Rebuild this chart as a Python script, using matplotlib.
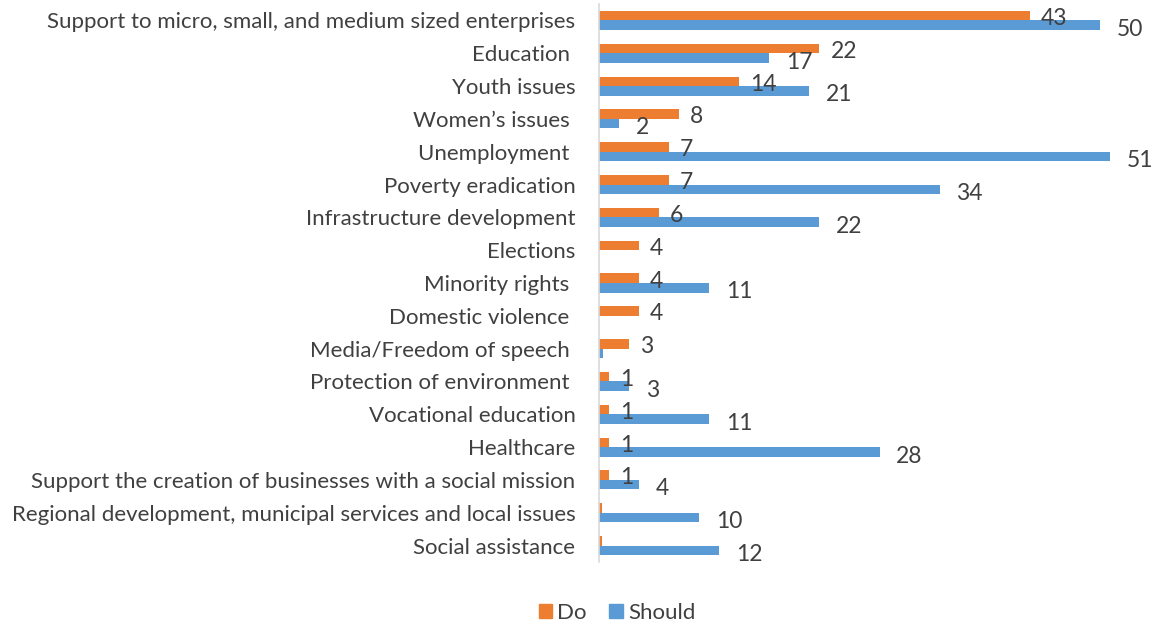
import numpy as np
import matplotlib.pyplot as plt
from matplotlib.patches import Patch

plt.rcParams['font.family'] = ['Lato', 'DejaVu Sans']

categories = [
    "Support to micro, small, and medium sized enterprises",
    "Education ",
    "Youth issues",
    "Women\u2019s issues ",
    "Unemployment ",
    "Poverty eradication",
    "Infrastructure development",
    "Elections",
    "Minority rights ",
    "Domestic violence ",
    "Media/Freedom of speech ",
    "Protection of environment ",
    "Vocational education",
    "Healthcare",
    "Support the creation of businesses with a social mission",
    "Regional development, municipal services and local issues",
    "Social assistance",
]
do_vals = [43, 22, 14, 8, 7, 7, 6, 4, 4, 4, 3, 1, 1, 1, 1, 0.3, 0.3]
should_vals = [50, 17, 21, 2, 51, 34, 22, 0, 11, 0, 0.4, 3, 11, 28, 4, 10, 12]

orange = "#ED7D31"
blue = "#5B9BD5"
text_col = "#404040"

fig = plt.figure(figsize=(11.57, 6.26), dpi=100)
ax = fig.add_axes([599 / 1157, 1 - 562 / 626, 551 / 1157, 558 / 626])

y = np.arange(len(categories))
h = 0.29
ax.barh(y - h / 2, do_vals, height=h, color=orange)
ax.barh(y + h / 2, should_vals, height=h, color=blue)

# value labels, skipped for the near-zero bars
for yi, d, s in zip(y, do_vals, should_vals):
    if d >= 1:
        ax.annotate(f"{d:g}", (d, yi - h / 2), xytext=(8, -2), textcoords="offset points",
                    va="center", ha="left", fontsize=16.5, color=text_col)
    if s >= 1:
        ax.annotate(f"{s:g}", (s, yi + h / 2), xytext=(12, -3), textcoords="offset points",
                    va="center", ha="left", fontsize=16.5, color=text_col)

ax.set_xlim(0, 55)
ax.set_ylim(len(categories) - 0.5, -0.5)
ax.set_yticks(y)
ax.set_yticklabels(categories, fontsize=16, color=text_col)
ax.tick_params(axis="y", length=0, pad=17)
ax.set_xticks([])
for side in ["top", "right", "bottom"]:
    ax.spines[side].set_visible(False)
ax.spines["left"].set_color("#d9d9d9")
ax.spines["left"].set_linewidth(1.2)

handles = [Patch(color=orange, label="Do"), Patch(color=blue, label="Should")]
fig.legend(handles=handles, loc="center", bbox_to_anchor=(617 / 1157, 1 - 613 / 626),
           ncol=2, frameon=False, fontsize=16, handlelength=0.6, handleheight=0.6,
           handletextpad=0.25, columnspacing=1.0, labelcolor=text_col)

fig.savefig("out.png", dpi=100)
